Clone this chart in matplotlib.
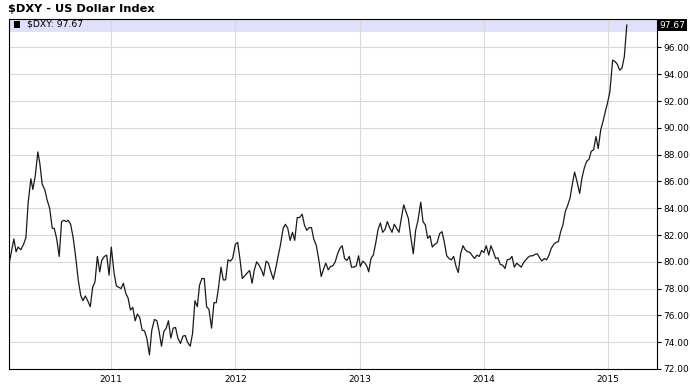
import matplotlib.pyplot as plt
from matplotlib.patches import Rectangle
from matplotlib.transforms import blended_transform_factory

# weekly closes of the US Dollar Index, x in decimal years
years = [
    2010.183, 2010.218, 2010.236, 2010.252, 2010.274, 2010.296, 2010.315, 2010.333, 2010.355, 2010.371,
    2010.390, 2010.411, 2010.427, 2010.446, 2010.468, 2010.486, 2010.506, 2010.527, 2010.543, 2010.562,
    2010.583, 2010.602, 2010.621, 2010.640, 2010.656, 2010.675, 2010.696, 2010.715, 2010.736, 2010.756,
    2010.774, 2010.793, 2010.812, 2010.833, 2010.852, 2010.871, 2010.890, 2010.909, 2010.925, 2010.946,
    2010.965, 2010.984, 2011.002, 2011.024, 2011.043, 2011.062, 2011.081, 2011.099, 2011.119, 2011.137,
    2011.156, 2011.175, 2011.194, 2011.212, 2011.231, 2011.250, 2011.269, 2011.288, 2011.309, 2011.328,
    2011.349, 2011.369, 2011.387, 2011.406, 2011.425, 2011.444, 2011.462, 2011.481, 2011.500, 2011.519,
    2011.538, 2011.559, 2011.578, 2011.597, 2011.615, 2011.637, 2011.656, 2011.675, 2011.694, 2011.712,
    2011.731, 2011.750, 2011.769, 2011.788, 2011.809, 2011.828, 2011.847, 2011.865, 2011.885, 2011.903,
    2011.922, 2011.941, 2011.960, 2011.978, 2012.000, 2012.019, 2012.038, 2012.056, 2012.075, 2012.094,
    2012.115, 2012.135, 2012.153, 2012.172, 2012.191, 2012.210, 2012.228, 2012.248, 2012.266, 2012.288,
    2012.306, 2012.325, 2012.344, 2012.363, 2012.385, 2012.403, 2012.422, 2012.441, 2012.460, 2012.478,
    2012.498, 2012.516, 2012.538, 2012.556, 2012.575, 2012.594, 2012.613, 2012.631, 2012.651, 2012.672,
    2012.691, 2012.710, 2012.728, 2012.748, 2012.766, 2012.785, 2012.804, 2012.823, 2012.841, 2012.860,
    2012.879, 2012.898, 2012.917, 2012.935, 2012.954, 2012.973, 2012.992, 2013.006, 2013.025, 2013.043,
    2013.062, 2013.073, 2013.092, 2013.110, 2013.130, 2013.148, 2013.167, 2013.186, 2013.204, 2013.223,
    2013.242, 2013.261, 2013.279, 2013.298, 2013.317, 2013.335, 2013.355, 2013.373, 2013.392, 2013.411,
    2013.432, 2013.451, 2013.470, 2013.492, 2013.510, 2013.529, 2013.548, 2013.566, 2013.585, 2013.604,
    2013.623, 2013.644, 2013.663, 2013.681, 2013.701, 2013.719, 2013.738, 2013.757, 2013.776, 2013.794,
    2013.813, 2013.832, 2013.850, 2013.870, 2013.888, 2013.907, 2013.926, 2013.944, 2013.963, 2013.982,
    2014.001, 2014.019, 2014.039, 2014.057, 2014.076, 2014.095, 2014.113, 2014.132, 2014.151, 2014.170,
    2014.188, 2014.208, 2014.226, 2014.245, 2014.264, 2014.282, 2014.301, 2014.320, 2014.339, 2014.357,
    2014.377, 2014.395, 2014.411, 2014.430, 2014.449, 2014.467, 2014.486, 2014.505, 2014.524, 2014.542,
    2014.562, 2014.580, 2014.599, 2014.618, 2014.636, 2014.655, 2014.674, 2014.693, 2014.711, 2014.730,
    2014.749, 2014.771, 2014.789, 2014.808, 2014.827, 2014.846, 2014.864, 2014.883, 2014.902, 2014.920,
    2014.940, 2014.958, 2014.977, 2014.996, 2015.014, 2015.036, 2015.055, 2015.073, 2015.093, 2015.111,
    2015.130, 2015.150,
]
dxy = [
    80.0, 81.7, 80.75, 81.1, 80.9, 81.3, 81.8, 84.4, 86.2, 85.4,
    86.4, 88.2, 87.35, 85.8, 85.35, 84.6, 84.0, 82.5, 82.5, 81.75,
    80.4, 83.0, 83.1, 83.0, 83.1, 82.8, 81.75, 80.4, 78.65, 77.5,
    77.1, 77.45, 77.1, 76.65, 78.1, 78.5, 80.4, 79.25, 80.1, 80.4,
    80.5, 79.0, 81.1, 79.2, 78.2, 78.1, 78.0, 78.4, 77.65, 77.3,
    76.4, 76.6, 75.6, 76.1, 75.85, 74.9, 74.85, 74.3, 73.05, 74.9,
    75.7, 75.6, 74.8, 73.7, 74.8, 75.05, 75.6, 74.3, 75.05, 75.1,
    74.3, 73.9, 74.45, 74.5, 74.0, 73.7, 74.65, 77.1, 76.65, 78.25,
    78.75, 78.75, 76.65, 76.45, 75.05, 76.95, 76.95, 78.1, 79.6, 78.65,
    78.65, 80.15, 80.05, 80.25, 81.3, 81.45, 80.15, 78.75, 78.95, 79.15,
    79.35, 78.4, 79.4, 80.0, 79.75, 79.4, 78.95, 80.05, 79.9, 79.2,
    78.7, 79.5, 80.4, 81.25, 82.5, 82.8, 82.5, 81.6, 82.2, 81.6,
    83.3, 83.3, 83.55, 82.75, 82.35, 82.55, 82.55, 81.7, 81.25, 80.15,
    78.9, 79.45, 79.9, 79.4, 79.65, 79.7, 80.0, 80.6, 81.0, 81.2,
    80.25, 80.1, 80.4, 79.6, 79.6, 79.7, 80.45, 79.65, 80.05, 79.9,
    79.6, 79.25, 80.25, 80.5, 81.4, 82.4, 82.9, 82.2, 82.4, 83.0,
    82.55, 82.2, 82.8, 82.5, 82.2, 83.2, 84.25, 83.75, 83.25, 81.9,
    80.6, 82.35, 83.1, 84.45, 83.0, 82.75, 81.75, 81.95, 81.1, 81.3,
    81.4, 82.1, 82.25, 81.5, 80.45, 80.25, 80.15, 80.4, 79.65, 79.2,
    80.6, 81.2, 80.9, 80.75, 80.7, 80.45, 80.25, 80.5, 80.4, 80.85,
    80.7, 81.2, 80.5, 81.2, 80.75, 80.25, 80.3, 79.8, 79.75, 79.5,
    80.15, 80.2, 80.4, 79.6, 79.9, 79.75, 79.6, 79.95, 80.15, 80.35,
    80.45, 80.45, 80.55, 80.6, 80.3, 80.06, 80.25, 80.15, 80.5, 81.0,
    81.3, 81.45, 81.5, 82.25, 82.75, 83.75, 84.2, 84.75, 85.75, 86.7,
    86.0, 85.1, 86.25, 87.0, 87.5, 87.65, 88.25, 88.35, 89.35, 88.45,
    89.85, 90.45, 91.2, 91.9, 92.7, 95.05, 94.95, 94.75, 94.3, 94.45,
    95.3, 97.67,
]
year_ticks = [2011, 2012, 2013, 2014, 2015]
value_ticks = [72, 74, 76, 78, 80, 82, 84, 86, 88, 90, 92, 94, 96]
title = "$DXY - US Dollar Index"
symbol = "$DXY"

plt.rcParams['font.family'] = 'DejaVu Sans'
plt.rcParams['text.parse_math'] = False

fig = plt.figure(figsize=(6.9, 3.84), dpi=100)
ax = fig.add_axes([9 / 690, 15 / 384, 648 / 690, 350 / 384])

ax.plot(years, dxy, color='#1a1a1a', lw=0.9, zorder=3)

ax.set_xlim(2010.179, 2015.393)
ax.set_ylim(72, 98.12)
ax.set_xticks(year_ticks)
ax.set_xticklabels([str(y) for y in year_ticks])
ax.set_yticks(value_ticks)
ax.set_yticklabels(['%.2f' % v for v in value_ticks])
ax.yaxis.tick_right()
ax.tick_params(axis='y', direction='out', length=3, width=0.8, pad=1.5, labelsize=6.5)
ax.tick_params(axis='x', length=0, pad=4, labelsize=6.5)
ax.set_axisbelow(True)
ax.grid(True, color='#d9d9d9', lw=0.8)
for s in ax.spines.values():
    s.set_linewidth(0.8)
    s.set_color('black')

# legend strip across the top
ax.add_patch(Rectangle((0, 1 - 13 / 350), 1, 13 / 350, transform=ax.transAxes,
                       facecolor='#e0e0fa', edgecolor='none', zorder=0.2))
ax.add_patch(Rectangle((4.5 / 648, 1 - 8.5 / 350), 6.5 / 648, 6.5 / 350, transform=ax.transAxes,
                       facecolor='black', edgecolor='none', zorder=4))
ax.text(18 / 648, 1 - 5.5 / 350, '%s: %.2f' % (symbol, dxy[-1]), transform=ax.transAxes,
        fontsize=6.7, va='center', ha='left', zorder=4)

# last value tag on the right axis
trans = blended_transform_factory(ax.transAxes, ax.transData)
ax.text(1.004, dxy[-1], '%.2f' % dxy[-1], transform=trans, fontsize=6.5, color='white',
        va='center', ha='left', clip_on=False,
        bbox=dict(boxstyle='square,pad=0.15', facecolor='black', edgecolor='none'))

fig.text(8 / 690, 1 - 9 / 384, title, fontsize=8.2, fontweight='bold', va='center', ha='left')

fig.savefig('out.png', dpi=100)
